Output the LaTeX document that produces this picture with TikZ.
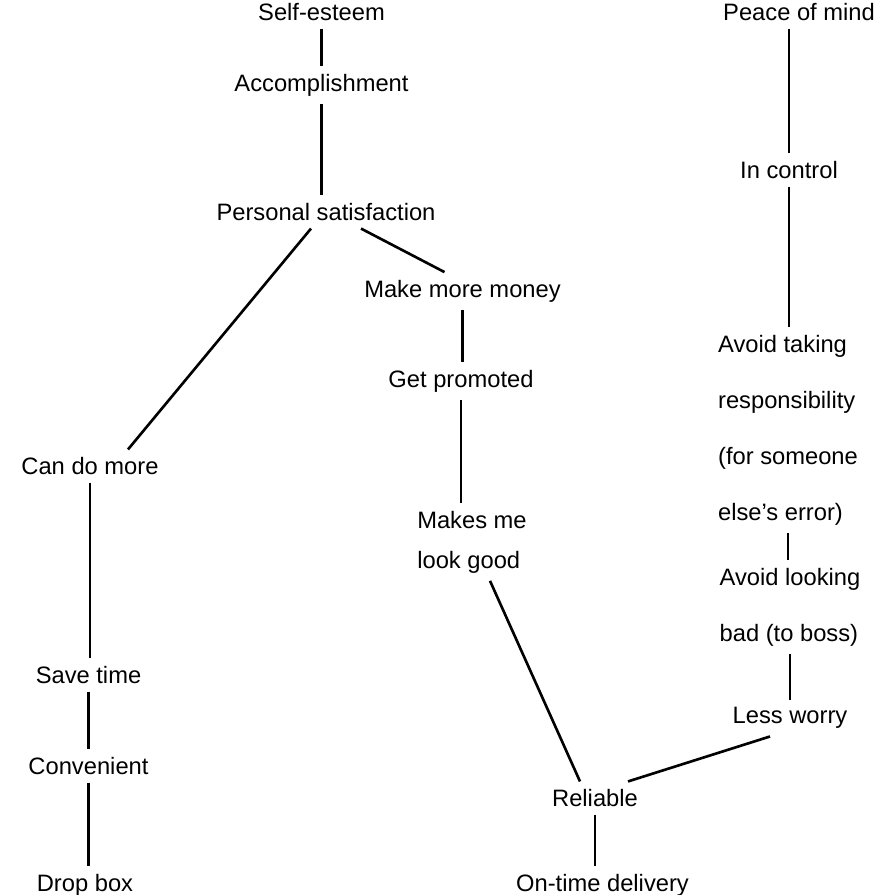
\documentclass[tikz,border=0pt]{standalone}
\usepackage{fontspec}
\setmainfont{Liberation Sans}
\usetikzlibrary{positioning}

\begin{document}
\begin{tikzpicture}[
  font=\fontsize{13.5}{31.9}\selectfont,
  item/.style={inner sep=0.15cm,align=center},
  itemleft/.style={inner sep=0.15cm,align=left},
  link/.style={line width=1.5pt,black}
]
  \useasboundingbox (0,0) rectangle (17.58,-17.9);

  % Left ladder.
  \node[item] (selfesteem) at (6.43,-0.24) {Self-esteem};
  \node[item] (accomp) at (6.43,-1.70) {Accomplishment};
  \node[item] (perssat) at (6.52,-4.24) {Personal satisfaction};
  \node[item] (domore) at (1.80,-9.32) {Can do more};
  \node[item] (savetime) at (1.77,-13.50) {Save time};
  \node[item] (convenient) at (1.77,-15.32) {Convenient};
  \node[item] (dropbox) at (1.70,-17.70) {Drop box};

  % Middle ladder.
  \node[item] (money) at (9.25,-5.82) {Make more money};
  \node[item] (promoted) at (9.22,-7.62) {Get promoted};
  \node[itemleft,font=\fontsize{13.5}{22.7}\selectfont] (lookgood) at (9.44,-10.84)
    {Makes me\\look good};
  \node[item] (reliable) at (11.90,-15.96) {Reliable};
  \node[item] (ontime) at (12.05,-17.70) {On-time delivery};

  % Right ladder.
  \node[item] (peace) at (15.98,-0.24) {Peace of mind};
  \node[item] (incontrol) at (15.78,-3.40) {In control};
  \node[itemleft] (avoidresp) at (15.76,-8.60)
    {Avoid taking\\responsibility\\(for someone\\else's error)};
  \node[itemleft] (avoidbad) at (15.80,-12.14)
    {Avoid looking\\bad (to boss)};
  \node[item] (lessworry) at (15.80,-14.36) {Less worry};

  % Links.
  \draw[link] (selfesteem) -- (accomp);
  \draw[link] (accomp) -- (accomp |- perssat.north);
  \draw[link] ([xshift=-0.3cm]perssat.south) -- ([xshift=0.76cm]domore.north);
  \draw[link] ([xshift=0.7cm]perssat.south) -- ([xshift=-0.36cm]money.north);
  \draw[link] (domore) -- (domore |- savetime.north);
  \draw[link] (savetime) -- (savetime |- convenient.north);
  \draw[link] (convenient) -- (convenient |- dropbox.north);
  \draw[link] (money) -- (money |- promoted.north);
  \draw[link] (promoted) -- (promoted |- lookgood.north);
  \draw[link] ([xshift=0.36cm]lookgood.south) -- ([xshift=-0.3cm]reliable.north);
  \draw[link] (reliable) -- (reliable |- ontime.north);
  \draw[link] (peace.south -| incontrol) -- (incontrol);
  \draw[link] (incontrol) -- (incontrol |- avoidresp.north);
  \draw[link] (avoidresp) -- (avoidresp |- avoidbad.north);
  \draw[link] (avoidbad) -- (avoidbad |- lessworry.north);
  \draw[link] ([xshift=-0.4cm]lessworry.south) -- ([xshift=0.66cm]reliable.north);
\end{tikzpicture}
\end{document}
